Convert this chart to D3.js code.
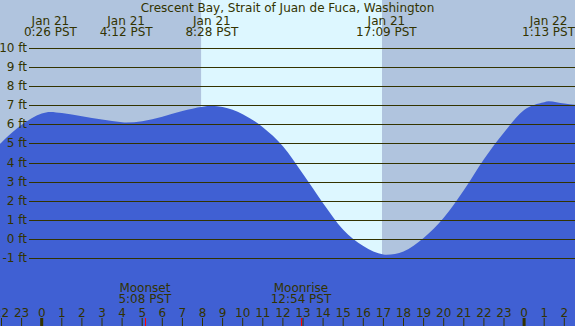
<!DOCTYPE html>
<html>
<head>
<meta charset="utf-8">
<script src="https://cdn.jsdelivr.net/npm/d3@7.9.0/dist/d3.min.js"></script>
<style>
  body { margin: 0; background: #fff; }
  svg { display: block; }
  text { font-family: "DejaVu Sans", sans-serif; font-size: 12px; fill: #333300; }
</style>
</head>
<body>
<svg id="chart" width="575" height="326"></svg>
<script>
const title = 'Crescent Bay, Strait of Juan de Fuca, Washington';

// tide height (hours from midnight Jan 21, feet)
const tideHours = [-2.1, -2, -1, 0, 0.43, 1, 2, 3, 4, 4.2, 5, 6, 7, 8, 8.47, 9, 10, 11, 12, 13, 14, 15, 16, 17, 17.15, 18, 19, 20, 21, 22, 23, 24, 25, 25.22, 26, 26.6];
const tideFeet  = [4.98, 5.08, 6.0, 6.6, 6.68, 6.62, 6.45, 6.28, 6.14, 6.12, 6.19, 6.42, 6.72, 6.95, 7.0, 6.93, 6.56, 5.88, 4.88, 3.42, 1.9, 0.51, -0.35, -0.79, -0.8, -0.63, 0.07, 1.13, 2.57, 4.2, 5.6, 6.78, 7.19, 7.24, 7.12, 7.04];

// high / low tide labels
const extremeHours = [0.433, 4.2, 8.467, 17.15, 25.217];
const extremeDates = ['Jan 21', 'Jan 21', 'Jan 21', 'Jan 21', 'Jan 22'];
const extremeTimes = ['0:26 PST', '4:12 PST', '8:28 PST', '17:09 PST', '1:13 PST'];

// sun and moon
const sunrise = 7.93, sunset = 16.93;
const moonHours = [5.133, 12.9];
const moonNames = ['Moonset', 'Moonrise'];
const moonTimes = ['5:08 PST', '12:54 PST'];

const feetTicks = [-1, 0, 1, 2, 3, 4, 5, 6, 7, 8, 9, 10];
const hourTicks = d3.range(-2, 27);

const W = 575, H = 326;
const svg = d3.select('#chart');

const x = d3.scaleLinear().domain([0, 24]).range([41.7, 41.7 + 24 * 20.1]);
const y = d3.scaleLinear().domain([-1, 10]).range([258.5, 48.5]);

// night / day background
svg.append('rect').attr('width', W).attr('height', H).attr('fill', '#b0c4de');
svg.append('rect')
  .attr('x', x(sunrise)).attr('y', 0)
  .attr('width', x(sunset) - x(sunrise)).attr('height', H)
  .attr('fill', '#ddf7ff');

// tide area
const tide = tideHours.map((h, i) => ({ h, v: tideFeet[i] }));
const area = d3.area()
  .x(d => x(d.h))
  .y0(H)
  .y1(d => y(d.v))
  .curve(d3.curveMonotoneX);
svg.append('path').datum(tide).attr('d', area).attr('fill', '#4060d3');

// grid lines and labels
const grid = svg.append('g');
grid.selectAll('line').data(feetTicks).join('line')
  .attr('x1', 29).attr('x2', W)
  .attr('y1', d => Math.floor(y(d)) + 0.5).attr('y2', d => Math.floor(y(d)) + 0.5)
  .attr('stroke', '#333300').attr('stroke-width', 1);
grid.selectAll('text').data(feetTicks).join('text')
  .attr('x', 27).attr('y', d => y(d) + 3.5)
  .attr('text-anchor', 'end')
  .text(d => d + ' ft');

// title
svg.append('text').attr('x', 287.5).attr('y', 12).attr('text-anchor', 'middle').text(title);

// extremes
const ext = svg.append('g');
ext.selectAll('text.date').data(extremeHours).join('text')
  .attr('class', 'date')
  .attr('x', d => x(d)).attr('y', 24.5).attr('text-anchor', 'middle')
  .text((d, i) => extremeDates[i]);
ext.selectAll('text.time').data(extremeHours).join('text')
  .attr('class', 'time')
  .attr('x', d => x(d)).attr('y', 36).attr('text-anchor', 'middle')
  .text((d, i) => extremeTimes[i]);

// moon events
const moon = svg.append('g');
moon.selectAll('text.name').data(moonHours).join('text')
  .attr('class', 'name')
  .attr('x', d => x(d)).attr('y', 291.7).attr('text-anchor', 'middle')
  .text((d, i) => moonNames[i]);
moon.selectAll('text.time').data(moonHours).join('text')
  .attr('class', 'time')
  .attr('x', d => x(d)).attr('y', 303.3).attr('text-anchor', 'middle')
  .text((d, i) => moonTimes[i]);
moon.selectAll('line').data(moonHours).join('line')
  .attr('x1', d => Math.round(x(d)) + 0.5).attr('x2', d => Math.round(x(d)) + 0.5)
  .attr('y1', 318).attr('y2', H)
  .attr('stroke', '#ff0000').attr('stroke-width', 1);

// hour axis
const axis = svg.append('g');
axis.selectAll('line').data(hourTicks).join('line')
  .attr('x1', d => x(d)).attr('x2', d => x(d))
  .attr('y1', 318).attr('y2', H)
  .attr('stroke', '#333300')
  .attr('stroke-width', d => ((d % 24) + 24) % 24 === 0 ? 3 : 1);
axis.selectAll('text').data(hourTicks).join('text')
  .attr('x', d => x(d)).attr('y', 316.5).attr('text-anchor', 'middle')
  .text(d => ((d % 24) + 24) % 24);
</script>
</body>
</html>
